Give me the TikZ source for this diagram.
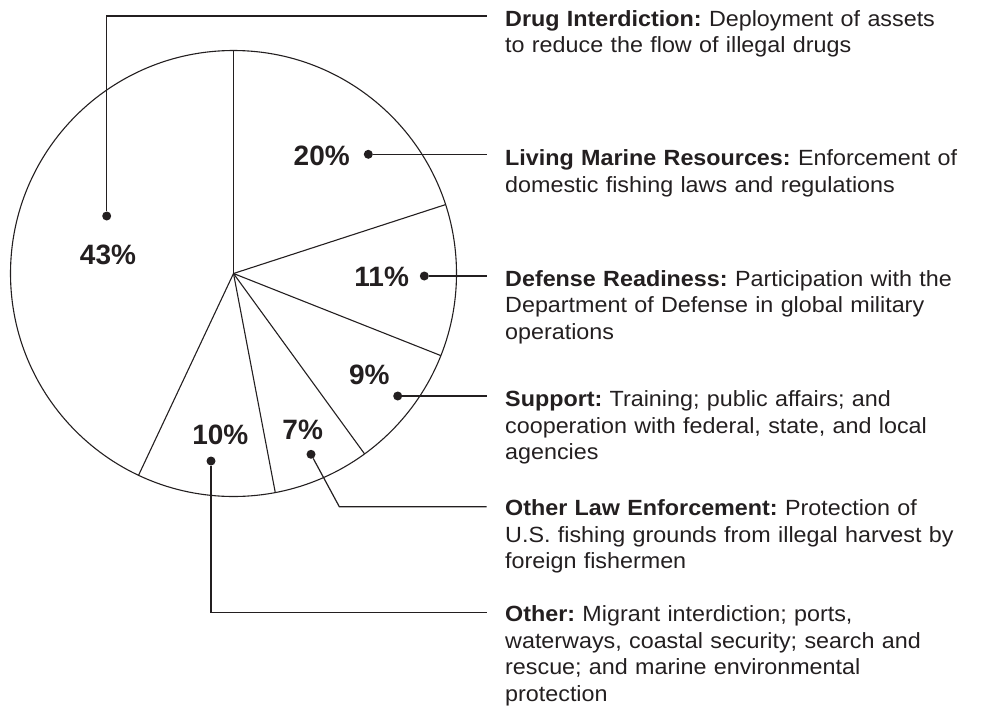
\documentclass[tikz,border=0pt]{standalone}
\usepackage{fontspec}
\setmainfont{Liberation Sans}
\newfontfamily\descfont{Liberation Sans}[FakeStretch=1.06]
\definecolor{ink}{HTML}{231F20}
\begin{document}
\frenchspacing
\begin{tikzpicture}[x=1pt,y=-1pt,
  pie/.style={draw=ink,line width=1.1pt},
  conn/.style={draw=ink,line width=1.2pt},
  dot/.style={circle,fill=ink,inner sep=0pt,minimum size=9pt},
  pct/.style={text=ink,inner sep=0pt,font=\fontsize{28}{30}\selectfont\bfseries},
  desc/.style={text=ink,inner sep=0pt,anchor=base west,text width=477pt,align=left,font=\descfont\fontsize{22}{26.6}\selectfont}]
\useasboundingbox (0,0) rectangle (982,707);
% pie
\coordinate (c) at (233.5,273.5);
\draw[pie] (c) circle[radius=223pt];
\foreach \a in {-90,-18,21.6,54,79.2,115.2}
  \draw[pie] (c) -- ++(\a:223);
% percentage labels
\node[pct] (p43) at (108,254.5) {43\%};
\node[pct] (p20) at (321.7,156.2) {20\%};
\node[pct] (p11) at (381.7,276.7) {11\%};
\node[pct] (p9) at (369.3,375) {9\%};
\node[pct] (p7) at (302.7,429.7) {7\%};
\node[pct] (p10) at (220.3,434.7) {10\%};
% dots
\node[dot] (d43) at (106.7,216) {};
\node[dot] (d20) at (368.3,154.3) {};
\node[dot] (d11) at (424.3,276) {};
\node[dot] (d9) at (397.7,396) {};
\node[dot] (d7) at (311,454.3) {};
\node[dot] (d10) at (211,461) {};
% connector ends
\coordinate (e43) at (486.7,16);
\coordinate (e20) at (486.7,154.3);
\coordinate (e11) at (486.7,276);
\coordinate (e9) at (486.7,396);
\coordinate (k7) at (339.3,506.7);
\coordinate (e7) at (486.7,506.7);
\coordinate (e10) at (486.7,612.3);
% descriptions
\node[desc] (t43) at (505,26) {\textbf{Drug Interdiction:} Deployment of assets\\to reduce the flow of illegal drugs};
\node[desc] (t20) at (505,165.7) {\textbf{Living Marine Resources:} Enforcement of\\domestic fishing laws and regulations};
\node[desc] (t11) at (505,286) {\textbf{Defense Readiness:} Participation with the\\Department of Defense in global military\\operations};
\node[desc] (t9) at (505,406.7) {\textbf{Support:} Training; public affairs; and\\cooperation with federal, state, and local\\agencies};
\node[desc] (t7) at (505,515.7) {\textbf{Other Law Enforcement:} Protection of\\U.S. fishing grounds from illegal harvest by\\foreign fishermen};
\node[desc] (t10) at (505,621.7) {\textbf{Other:} Migrant interdiction; ports,\\waterways, coastal security; search and\\rescue; and marine environmental\\protection};
% connectors
\draw[conn] (d43) |- (e43);
\draw[conn] (d20) -- (e20);
\draw[conn] (d11) -- (e11);
\draw[conn] (d9) -- (e9);
\draw[conn] (d7) -- (k7) -- (e7);
\draw[conn] (d10) |- (e10);
\end{tikzpicture}
\end{document}
